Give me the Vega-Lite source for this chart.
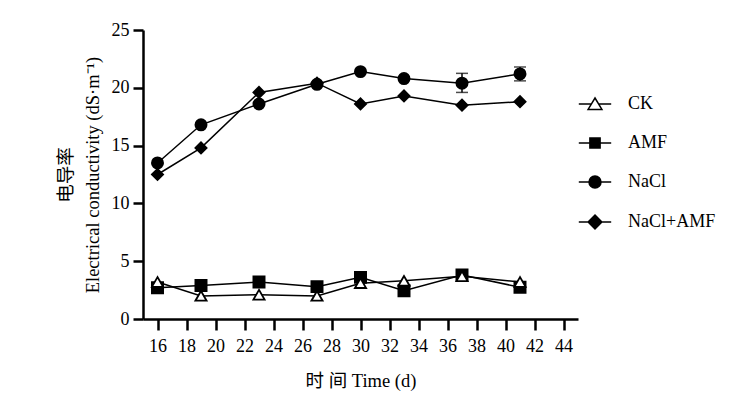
{
  "$schema": "https://vega.github.io/schema/vega-lite/v6.json",
  "autosize": "none",
  "padding": {"left": 143, "top": 30, "right": 168, "bottom": 96},
  "width": 435,
  "height": 289,
  "background": "white",
  "config": {
    "view": {"stroke": null},
    "font": "Liberation Serif",
    "axis": {
      "labelFont": "Liberation Serif",
      "titleFont": "Liberation Serif, Noto Sans CJK SC",
      "labelFontSize": 18,
      "titleFontSize": 18.5,
      "titleFontWeight": "normal",
      "labelColor": "#000",
      "titleColor": "#000",
      "domainColor": "#000",
      "tickColor": "#000",
      "domainWidth": 2.5,
      "tickWidth": 2.5,
      "grid": false
    },
    "legend": {
      "labelFont": "Liberation Serif",
      "labelFontSize": 18,
      "labelColor": "#000"
    }
  },
  "data": {
    "values": [
      {"group": "NaCl+AMF", "day": 16, "ec": 12.5},
      {"group": "NaCl+AMF", "day": 19, "ec": 14.8},
      {"group": "NaCl+AMF", "day": 23, "ec": 19.6},
      {"group": "NaCl+AMF", "day": 27, "ec": 20.4},
      {"group": "NaCl+AMF", "day": 30, "ec": 18.6},
      {"group": "NaCl+AMF", "day": 33, "ec": 19.3},
      {"group": "NaCl+AMF", "day": 37, "ec": 18.5},
      {"group": "NaCl+AMF", "day": 41, "ec": 18.8},
      {"group": "NaCl", "day": 16, "ec": 13.5},
      {"group": "NaCl", "day": 19, "ec": 16.8},
      {"group": "NaCl", "day": 23, "ec": 18.6},
      {"group": "NaCl", "day": 27, "ec": 20.3},
      {"group": "NaCl", "day": 30, "ec": 21.4},
      {"group": "NaCl", "day": 33, "ec": 20.8},
      {"group": "NaCl", "day": 37, "ec": 20.4, "lo": 19.6, "hi": 21.25},
      {"group": "NaCl", "day": 41, "ec": 21.2, "lo": 20.6, "hi": 21.8},
      {"group": "AMF", "day": 16, "ec": 2.7},
      {"group": "AMF", "day": 19, "ec": 2.9},
      {"group": "AMF", "day": 23, "ec": 3.2},
      {"group": "AMF", "day": 27, "ec": 2.8},
      {"group": "AMF", "day": 30, "ec": 3.6},
      {"group": "AMF", "day": 33, "ec": 2.45},
      {"group": "AMF", "day": 37, "ec": 3.8},
      {"group": "AMF", "day": 41, "ec": 2.75},
      {"group": "CK", "day": 16, "ec": 3.2},
      {"group": "CK", "day": 19, "ec": 2.0},
      {"group": "CK", "day": 23, "ec": 2.1},
      {"group": "CK", "day": 27, "ec": 2.0},
      {"group": "CK", "day": 30, "ec": 3.1},
      {"group": "CK", "day": 33, "ec": 3.3},
      {"group": "CK", "day": 37, "ec": 3.7},
      {"group": "CK", "day": 41, "ec": 3.2}
    ]
  },
  "encoding": {
    "x": {
      "field": "day",
      "type": "quantitative",
      "scale": {"domain": [15, 45], "nice": false, "zero": false},
      "axis": {
        "title": "时 间 Time (d)",
        "values": [16, 18, 20, 22, 24, 26, 28, 30, 32, 34, 36, 38, 40, 42, 44],
        "tickSize": 11,
        "labelPadding": 7,
        "titlePadding": 16
      }
    },
    "y": {
      "field": "ec",
      "type": "quantitative",
      "scale": {"domain": [0, 25], "nice": false},
      "axis": {
        "title": ["电导率", "Electrical conductivity (dS·m⁻¹)"],
        "values": [0, 5, 10, 15, 20, 25],
        "tickSize": 10,
        "labelPadding": 4,
        "titlePadding": 9,
        "titleLineHeight": 27
      }
    }
  },
  "layer": [
    {
      "mark": {"type": "line", "color": "#000", "strokeWidth": 1.5},
      "encoding": {"detail": {"field": "group", "type": "nominal"}}
    },
    {
      "transform": [{"filter": "isValid(datum.lo)"}],
      "mark": {"type": "rule", "color": "#000", "strokeWidth": 1.5},
      "encoding": {
        "y": {"field": "lo", "type": "quantitative"},
        "y2": {"field": "hi"}
      }
    },
    {
      "transform": [{"filter": "isValid(datum.lo)"}],
      "mark": {"type": "tick", "color": "#000", "size": 12, "thickness": 1.5, "orient": "horizontal"},
      "encoding": {"y": {"field": "lo", "type": "quantitative"}}
    },
    {
      "transform": [{"filter": "isValid(datum.lo)"}],
      "mark": {"type": "tick", "color": "#000", "size": 12, "thickness": 1.5, "orient": "horizontal"},
      "encoding": {"y": {"field": "hi", "type": "quantitative"}}
    },
    {
      "mark": {"type": "point", "filled": true, "stroke": "#000", "strokeWidth": 1.8, "opacity": 1, "size": 125},
      "encoding": {
        "shape": {
          "field": "group",
          "type": "nominal",
          "scale": {
            "domain": ["AMF", "CK", "NaCl", "NaCl+AMF"],
            "range": ["square", "triangle-up", "circle", "diamond"]
          },
          "legend": null
        },
        "fill": {
          "field": "group",
          "type": "nominal",
          "scale": {
            "domain": ["CK", "AMF", "NaCl", "NaCl+AMF"],
            "range": ["white", "black", "black", "black"]
          },
          "legend": {
            "title": null,
            "orient": "none",
            "legendX": 443,
            "legendY": 65,
            "symbolSize": 144,
            "symbolStrokeWidth": 1.5,
            "symbolStrokeColor": "black",
            "symbolOpacity": 1,
            "rowPadding": 21,
            "labelOffset": 24,
            "symbolType": {"expr": "datum.value === 'CK' ? 'M-2.7,0H-0.6M0.6,0H2.7M0,-1L1.15,0.9L-1.15,0.9Z' : datum.value === 'AMF' ? 'M-2.7,0H-0.85M0.85,0H2.7M-0.85,-0.85H0.85V0.85H-0.85Z' : datum.value === 'NaCl' ? 'M-2.7,0H-1M1,0H2.7M-1,0A1,1 0 1,0 1,0A1,1 0 1,0 -1,0Z' : 'M-2.7,0H-1.15M1.15,0H2.7M0,-1.15L1.15,0L0,1.15L-1.15,0Z'"}
          }
        }
      }
    }
  ]
}
